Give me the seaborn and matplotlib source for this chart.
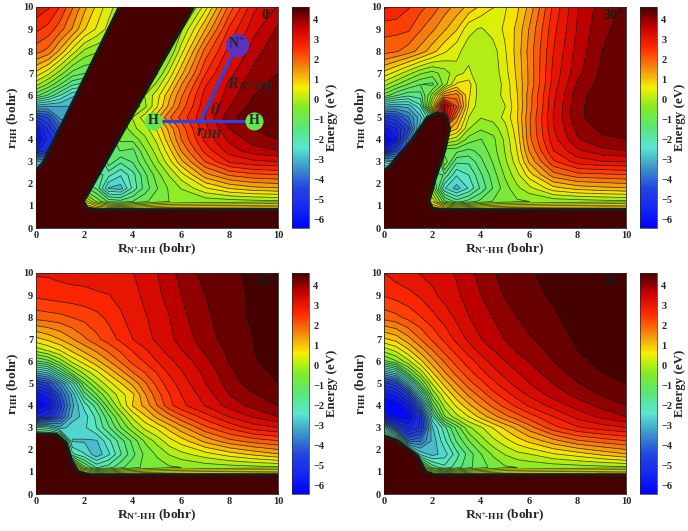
import matplotlib
matplotlib.use('Agg')
import matplotlib.pyplot as plt
import numpy as np
import seaborn as sns

R_vals = [0, 0.5, 1, 1.5, 2, 2.5, 3, 3.5, 4, 4.5, 5, 5.5, 6, 7, 8, 9, 10]
r_vals = [10, 9, 8, 7, 6.5, 6, 5.5, 5, 4.5, 4, 3.5, 3, 2.4, 1.8, 1.2, 0.7]

# energies, one row per r_vals entry
e_00 = [
    [3.1, 2.9, 2.5, 1.9, 1.3, 0.8, 0.35, 0, 0, 0, 0, 0, -1, 0.4, 2.0, 3.1, 3.55],
    [2.6, 2.4, 2.0, 1.5, 0.9, 0.5, 0.1, -0.2, -0.2, -0.3, -0.4, -0.5, -0.2, 1.2, 2.6, 3.4, 3.9],
    [2.0, 1.75, 1.1, 0.4, -0.2, -0.4, -0.4, -0.4, -0.4, -0.4, -0.4, -0.5, 0.4, 2.0, 3.0, 3.7, 4.1],
    [0.75, 0.3, -0.3, -0.9, -1.1, -1.1, -1, -1, -0.8, -0.7, -0.5, 0.3, 1.1, 2.5, 3.4, 3.95, 4.17],
    [0, -0.5, -1.1, -1.7, -1.9, -1.9, -1.5, -1.2, -0.9, -0.7, 0, 0.7, 1.5, 2.8, 3.6, 4.05, 4.3],
    [-1, -1.5, -2.1, -2.7, -2.8, -2.5, -2, -1.5, -0.6, -0.1, 0.4, 1.1, 1.8, 3, 3.7, 4.17, 4.35],
    [-3, -3.1, -3.1, -3.1, -3, -2.5, -2, -1.5, -0.8, -0.2, 0.5, 1.3, 2, 3.1, 3.84, 4.3, 4.4],
    [-4.8, -4.4, -3.3, -3.2, -3, -2.5, -2, -0.7, -0.1, 0.4, 1.1, 1.8, 2.3, 3.2, 4.1, 4.35, 4.45],
    [-5.9, -5, -4, -4, -3.5, -3, -2, -0.8, -0.2, 0.05, 0.6, 1.3, 2, 3.1, 3.85, 4.2, 4.35],
    [-6.2, -5.3, -4.8, -4.5, -4, -3, -1.5, -0.7, -0.7, -0.2, 0.3, 1.1, 1.85, 2.95, 3.6, 4, 4.17],
    [-5.5, -5, -4.5, -4, -3.5, -2.5, -1.2, -1.1, -1.2, -0.5, 0.05, 0.75, 1.55, 2.65, 3.35, 3.7, 3.84],
    [-3, -3, -3, -3, -3, -2.5, -1.2, -1.7, -1.4, -0.8, -0.2, 0.4, 1.1, 2.2, 2.9, 3.1, 3.17],
    [-2, -2, -2, -2, -2, -1.5, -2, -2.4, -1.9, -1.2, -0.6, -0.1, 0.4, 1.4, 1.9, 2.1, 2.17],
    [-1, -1, -1, -1, -1, -1.5, -2.8, -2.9, -2, -1.3, -0.8, -0.4, -0.1, 0.5, 0.9, 1.1, 1.17],
    [0, 0, 0, 0, 0.5, -0.5, -1.2, -1.3, -1.1, -0.85, -0.6, -0.45, -0.4, -0.35, -0.3, -0.25, -0.2],
    [2, 2, 2, 2, 2, 2, 2, 2, 2, 2, 2, 2, 2, 2, 2, 2, 2],
]
e_30 = [
    [2.9, 2.8, 2.55, 2.3, 2.05, 1.7, 1.4, 1.1, 0.8, 0.55, 0.5, 0.8, 1.3, 2.6, 3.5, 4.0, 4.25],
    [2.3, 2.3, 2.25, 1.9, 1.6, 1.25, 0.9, 0.3, 0.17, 0.35, 0.6, 0.95, 1.55, 2.75, 3.55, 4.1, 4.3],
    [2.0, 1.9, 1.7, 1.4, 1.0, 0.6, 0.3, 0.05, -0.05, 0.05, 0.5, 1.0, 1.65, 2.85, 3.65, 4.17, 4.35],
    [0.75, 0.4, 0, -0.4, -0.6, -0.3, 0.1, 0.3, -0.1, 0.0, 0.4, 0.95, 1.6, 2.95, 3.75, 4.25, 4.38],
    [0, -0.4, -0.8, -1.1, -1.2, -0.3, 0.6, 0.7, -0.1, 0.0, 0.3, 0.9, 1.6, 3.0, 3.9, 4.3, 4.4],
    [-0.9, -1.4, -1.7, -1.6, -0.3, 1.5, 1.7, 0.6, 0.0, 0.05, 0.3, 0.85, 1.7, 3.1, 4.05, 4.35, 4.42],
    [-3, -3.1, -3, -2.2, 0.5, 3.6, 2.2, 0.5, -0.05, 0.0, 0.2, 0.8, 1.7, 3.15, 4.1, 4.35, 4.42],
    [-4.8, -4.5, -3.8, -2.9, -1.5, 3.5, 1.4, 0.2, -0.1, 0.0, 0.3, 0.85, 1.8, 3.2, 4.1, 4.35, 4.42],
    [-5.9, -5.4, -4.5, -2.5, 0, 1.5, 0.9, -0.1, -0.4, -0.3, 0.1, 0.75, 1.8, 3.15, 3.95, 4.25, 4.4],
    [-6.4, -5.8, -3.8, -2, -1, 0.3, 0, -0.6, -0.8, -0.55, -0.05, 0.65, 1.75, 3.05, 3.8, 4.1, 4.17],
    [-5.8, -4.5, -4, -3, -2, -1, -1, -1.2, -1, -0.6, -0.1, 0.55, 1.55, 2.85, 3.45, 3.75, 3.84],
    [-2.5, -3, -3, -3, -3, -0.5, -1.7, -1.7, -1.2, -0.75, -0.2, 0.4, 1.25, 2.45, 3, 3.15, 3.17],
    [-1, -1, -1, -1, -1, -1.5, -2.4, -2.1, -1.5, -0.95, -0.4, 0.1, 0.7, 1.7, 2.05, 2.1, 2.17],
    [-1, -1, -1, -1, -0.5, -2.4, -2.9, -2.4, -1.7, -1.1, -0.6, -0.2, 0.1, 0.75, 1.0, 1.1, 1.17],
    [0, 0, 0, 0, 0.5, -1, -1.6, -1.3, -1, -0.75, -0.6, -0.5, -0.45, -0.35, -0.3, -0.25, -0.2],
    [2, 2, 2, 2, 2, 2, 2, 2, 2, 2, 2, 2, 2, 2, 2, 2, 2],
]
e_60 = [
    [2.9, 2.9, 2.95, 3.0, 3.0, 3.05, 3.08, 3.12, 3.17, 3.3, 3.5, 3.72, 3.95, 4.3, 4.42, 4.6, 4.7],
    [2.6, 2.65, 2.7, 2.72, 2.75, 2.8, 2.84, 2.95, 3.08, 3.25, 3.42, 3.65, 3.84, 4.17, 4.4, 4.55, 4.6],
    [2.0, 2.05, 2.1, 2.2, 2.3, 2.42, 2.6, 2.8, 3.0, 3.15, 3.3, 3.5, 3.75, 4.1, 4.38, 4.55, 4.6],
    [0.75, 0.95, 1.2, 1.5, 1.8, 2.1, 2.35, 2.6, 2.85, 3.05, 3.25, 3.45, 3.6, 4.05, 4.3, 4.5, 4.6],
    [0, 0.25, 0.55, 0.95, 1.3, 1.6, 1.95, 2.25, 2.55, 2.8, 3.05, 3.3, 3.5, 3.9, 4.25, 4.5, 4.6],
    [-1.2, -0.9, -0.3, 0.3, 0.7, 1.1, 1.5, 1.9, 2.3, 2.55, 2.85, 3.1, 3.3, 3.75, 4.2, 4.48, 4.58],
    [-3, -2.7, -1.6, -0.6, 0, 0.45, 0.95, 1.4, 1.85, 2.2, 2.55, 2.9, 3.15, 3.6, 4.1, 4.42, 4.55],
    [-4.8, -4.4, -3.5, -2.2, -0.8, -0.1, 0.4, 0.85, 1.3, 1.8, 2.3, 2.7, 3.0, 3.5, 4.0, 4.35, 4.5],
    [-5.9, -5.6, -4.2, -3, -1.6, -0.8, -0.1, 0.4, 0.8, 1.5, 2.05, 2.5, 2.85, 3.35, 3.85, 4.15, 4.35],
    [-6.4, -6, -4.6, -3.2, -2.3, -1.6, -0.6, 0.2, 0.9, 1.3, 1.85, 2.4, 2.75, 3.2, 3.65, 3.95, 4.17],
    [-5.6, -5.2, -4.2, -3, -2.6, -2, -1.2, -0.4, 0.3, 0.8, 1.3, 1.7, 2.1, 2.7, 3.2, 3.55, 3.84],
    [-2, -2.2, -3, -2.5, -2.5, -2.1, -1.5, -0.8, -0.2, 0.3, 0.6, 1, 1.4, 2.1, 2.6, 3, 3.17],
    [0, 0, 0, -2.8, -2.8, -2.8, -2.2, -1.6, -1, -0.4, 0, 0.4, 0.7, 1.3, 1.75, 2, 2.17],
    [0, 0, 0, -2, -2.4, -3, -2.5, -1.8, -1.2, -0.7, -0.4, -0.1, 0.1, 0.4, 0.7, 0.95, 1.17],
    [1, 1, 1, 1, -1, -1.8, -1.6, -1.2, -0.9, -0.7, -0.6, -0.5, -0.45, -0.35, -0.3, -0.25, -0.2],
    [2, 2, 2, 2, 2, 2, 2, 2, 2, 2, 2, 2, 2, 2, 2, 2, 2],
]
e_90 = [
    [2.85, 3.0, 3.1, 3.2, 3.3, 3.4, 3.55, 3.75, 3.95, 4.15, 4.25, 4.35, 4.47, 4.6, 4.7, 4.75, 4.8],
    [2.55, 2.65, 2.75, 2.9, 3.1, 3.3, 3.45, 3.65, 3.84, 4.0, 4.2, 4.3, 4.4, 4.55, 4.7, 4.75, 4.8],
    [2.0, 2.1, 2.3, 2.5, 2.75, 3.0, 3.25, 3.5, 3.65, 3.85, 4.0, 4.17, 4.28, 4.45, 4.65, 4.75, 4.8],
    [0.8, 1.0, 1.4, 1.85, 2.25, 2.6, 2.95, 3.25, 3.5, 3.7, 3.85, 4.0, 4.13, 4.35, 4.55, 4.7, 4.75],
    [0, 0.3, 0.8, 1.35, 1.85, 2.3, 2.65, 3.0, 3.3, 3.5, 3.7, 3.87, 4.0, 4.27, 4.5, 4.65, 4.7],
    [-0.9, -0.5, 0.1, 0.75, 1.4, 1.9, 2.35, 2.7, 3.0, 3.3, 3.5, 3.7, 3.85, 4.17, 4.42, 4.58, 4.65],
    [-3, -2.5, -1, 0, 0.85, 1.5, 2.0, 2.4, 2.75, 3.05, 3.3, 3.5, 3.7, 4.02, 4.3, 4.5, 4.58],
    [-4.9, -4.5, -2.9, -1, 0.25, 1.0, 1.55, 2.05, 2.4, 2.75, 3.05, 3.3, 3.5, 3.85, 4.15, 4.4, 4.5],
    [-5.9, -5.6, -4.7, -2.5, -0.4, 0.45, 1.1, 1.6, 2.0, 2.4, 2.7, 3.0, 3.25, 3.65, 3.95, 4.2, 4.35],
    [-6.3, -6.3, -5.8, -4, -1.2, 0, 0.6, 1.1, 1.55, 1.95, 2.3, 2.6, 2.9, 3.3, 3.65, 3.95, 4.17],
    [-5.8, -6.2, -6.2, -5, -2.2, -0.5, 0.1, 0.55, 1, 1.4, 1.75, 2.05, 2.35, 2.85, 3.3, 3.6, 3.84],
    [-2.5, -4.5, -5.5, -5, -2.8, -1.9, -1, -0.2, 0.15, 0.55, 0.95, 1.3, 1.7, 2.4, 2.8, 3, 3.17],
    [0, -1, -4, -3.8, -3, -2.2, -1.4, -0.8, -0.3, 0.1, 0.4, 0.7, 0.95, 1.4, 1.8, 2.0, 2.17],
    [0, 0, 0, -2.5, -2.9, -2.6, -1.9, -1.3, -0.8, -0.4, -0.1, 0.1, 0.2, 0.5, 0.7, 0.95, 1.17],
    [0, 0, 0, 0, -1.5, -2, -1.6, -1.2, -0.9, -0.7, -0.5, -0.45, -0.4, -0.35, -0.3, -0.25, -0.2],
    [2, 2, 2, 2, 2, 2, 2, 2, 2, 2, 2, 2, 2, 2, 2, 2, 2],
]

# outline of the repulsive wall in each panel, nan = gap in the black edge
wall_00_x = [0, 0.3, 3.45, np.nan, 6.5, 1.95, 2.1, 2.5, 10]
wall_00_y = [2.6, 2.95, 10, np.nan, 10, 1.2, 0.9, 0.82, 0.82]
wall_30_x = [0, 0.2, 1.1, 1.8, 2.2, 2.55, 2.7, 2.5, 2.1, 1.85, 2.0, 2.4, 10]
wall_30_y = [2.6, 2.75, 3.9, 5.0, 5.2, 5.1, 4.5, 3.5, 2.2, 1.2, 0.88, 0.82, 0.82]
wall_60_x = [0, 0.83, 1.24, 1.45, 1.72, 2.2, 10]
wall_60_y = [2.72, 2.7, 2.3, 1.55, 1.0, 0.86, 0.86]
wall_90_x = [0, 0.55, 1.38, 1.72, 2.07, 10]
wall_90_y = [2.62, 2.4, 1.7, 1.0, 0.86, 0.86]

angle_labels = ['0°', '30°', '60°', '90°']

# colours every 1 eV from -6.4 to 4.6
bar_colors = ['#0000ff', '#1428f0', '#2346e1', '#3c96c8', '#5ae6d2', '#5ae678',
              '#82eb28', '#f5f000', '#f5870f', '#ff2800', '#c80000', '#460000']
tick_vals = [-6, -5, -4, -3, -2, -1, 0, 1, 2, 3, 4]
E_MIN = -6.4
E_MAX = 4.6

sns.set_theme(style='ticks')
plt.rcParams['font.family'] = ['Liberation Serif', 'DejaVu Sans']
plt.rcParams['font.weight'] = 'bold'
plt.rcParams['mathtext.fontset'] = 'custom'
plt.rcParams['mathtext.rm'] = 'Liberation Serif:bold'
plt.rcParams['mathtext.it'] = 'Liberation Serif:italic:bold'
plt.rcParams['mathtext.bf'] = 'Liberation Serif:bold'

W = 688.0
H = 531.0
cmap = sns.blend_palette(bar_colors, as_cmap=True)
norm = matplotlib.colors.Normalize(E_MIN, E_MAX)
line_levels = np.arange(4.5 - 33 * 0.33, 4.51, 0.33)
fill_levels = np.r_[line_levels, 7.0]

fig = plt.figure(figsize=(W / 100, H / 100), dpi=100)


def box(x0, x1, y0, y1):
    return [x0 / W, 1 - y1 / H, (x1 - x0) / W, (y1 - y0) / H]


def draw_panel(px, py, grid, wall_x, wall_y, angle):
    ax = fig.add_axes(box(px, px + 242, py, py + 221))
    # flat bands between the contour lines
    ax.contourf(R_vals, r_vals, grid, levels=fill_levels, cmap=cmap, norm=norm, extend='both')
    ax.contour(R_vals, r_vals, grid, levels=line_levels, colors='k', linewidths=0.55, alpha=0.8,
               linestyles='solid')

    # wall on top of the field
    xs = np.array(wall_x)
    ys = np.array(wall_y)
    keep = ~np.isnan(xs)
    ax.fill(np.r_[0, xs[keep], 10, 0], np.r_[0, ys[keep], 0, 0], color=cmap(1.0), lw=0, zorder=3)
    ax.plot(xs, ys, color='k', lw=2.5, zorder=4, solid_capstyle='butt')

    ax.set_xlim(0, 10)
    ax.set_ylim(0, 10)
    ax.set_xticks(range(0, 11, 2))
    ax.set_yticks(range(0, 11))
    ax.tick_params(direction='in', length=2.5, width=0.5, labelsize=7.5, pad=2)
    ax.set_xlabel(r'R$_{\mathrm{N^{+}\!\text{-}HH}}$ (bohr)', fontsize=9.7, fontweight='bold', labelpad=1)
    ax.set_ylabel(r'r$_{\mathrm{HH}}$ (bohr)', fontsize=9.7, fontweight='bold', labelpad=1)
    ax.text(9.85, 9.6, angle, ha='right', va='center', fontsize=10, fontweight='bold', color='k', zorder=6)
    for s in ax.spines.values():
        s.set_linewidth(0.6)

    cax = fig.add_axes(box(px + 256, px + 273, py, py + 221))
    bar = fig.colorbar(matplotlib.cm.ScalarMappable(norm=norm, cmap=cmap), cax=cax)
    bar.set_ticks(tick_vals)
    bar.ax.tick_params(direction='in', length=2, width=0.4, labelsize=7.5, pad=3)
    bar.set_label('Energy (eV)', fontsize=9.3, fontweight='bold', labelpad=1)
    bar.outline.set_linewidth(0.5)
    return ax


ax_00 = draw_panel(36, 7, e_00, wall_00_x, wall_00_y, angle_labels[0])
draw_panel(384, 7, e_30, wall_30_x, wall_30_y, angle_labels[1])
draw_panel(36, 273, e_60, wall_60_x, wall_60_y, angle_labels[2])
draw_panel(384, 273, e_90, wall_90_x, wall_90_y, angle_labels[3])

# N+ + H2 geometry sketch on the first panel
ax_00.plot([4.85, 9.0], [4.85, 4.85], color='#2846e6', lw=2.3, zorder=7)
ax_00.plot([6.8, 8.3], [4.85, 8.3], color='#2846e6', lw=2.3, zorder=7)
ax_00.scatter([4.85, 9.0], [4.85, 4.85], s=170, color='#64e650', zorder=8, lw=0)
ax_00.scatter([8.3], [8.3], s=280, color='#5a32be', zorder=8, lw=0)
ax_00.text(4.85, 4.85, 'H', ha='center', va='center', fontsize=10, zorder=9)
ax_00.text(9.0, 4.85, 'H', ha='center', va='center', fontsize=10, zorder=9)
ax_00.text(8.3, 8.3, 'N$^{+}$', ha='center', va='center', fontsize=10, zorder=9)
ax_00.text(7.9, 6.5, r'$R_{N^{+}\!\text{-}HH}$', ha='left', va='center', fontsize=12, zorder=9)
ax_00.text(7.4, 5.3, r'$\theta$', ha='center', va='center', fontsize=12, zorder=9)
ax_00.text(6.6, 4.3, r'$r_{HH}$', ha='left', va='center', fontsize=12, zorder=9)

fig.savefig('out.png', dpi=100)
